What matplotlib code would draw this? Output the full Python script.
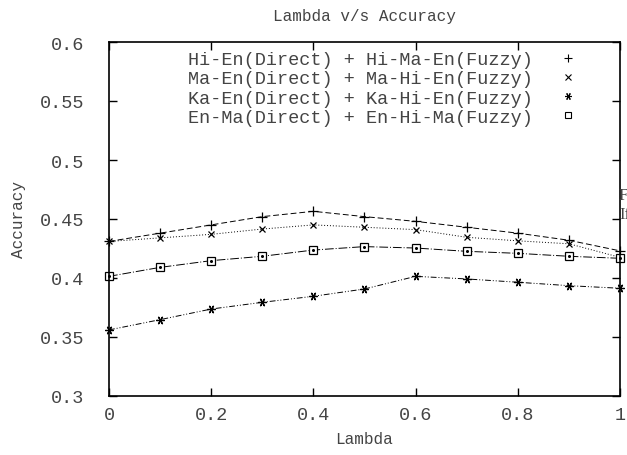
import matplotlib.pyplot as plt
from matplotlib.lines import Line2D

# Werte
lam = [0.0, 0.1, 0.2, 0.3, 0.4, 0.5, 0.6, 0.7, 0.8, 0.9, 1.0]
hi_en = [0.431, 0.438, 0.445, 0.452, 0.4565, 0.452, 0.448, 0.443, 0.438, 0.432, 0.423]
ma_en = [0.431, 0.434, 0.437, 0.4415, 0.445, 0.443, 0.441, 0.4345, 0.4315, 0.429, 0.4175]
ka_en = [0.356, 0.3647, 0.3737, 0.3794, 0.3845, 0.3907, 0.4014, 0.3992, 0.3964, 0.3935, 0.3913]
en_ma = [0.4014, 0.409, 0.4147, 0.4184, 0.4237, 0.4266, 0.4254, 0.4226, 0.4209, 0.4184, 0.4167]

labels = ['Hi-En(Direct) + Hi-Ma-En(Fuzzy)',
          'Ma-En(Direct) + Ma-Hi-En(Fuzzy)',
          'Ka-En(Direct) + Ka-Hi-En(Fuzzy)',
          'En-Ma(Direct) + En-Hi-Ma(Fuzzy)']

plt.rcParams['font.family'] = ['Liberation Mono', 'DejaVu Sans']
plt.rcParams['font.size'] = 13.3

txt = '#444444'
fig = plt.figure(figsize=(6.27, 4.56), dpi=100)
ax = fig.add_axes([109 / 627, 59 / 456, 511 / 627, 354 / 456])

star = (6, 2, 90)
styles = [
    dict(marker='+', linestyle=(0, (6, 3)), ms=7),
    dict(marker='x', linestyle=(0, (1, 2)), ms=5),
    dict(marker=star, linestyle=(0, (6, 2, 1, 2, 1, 2)), ms=6),
    dict(marker='s', linestyle=(0, (9, 2, 1, 2)), ms=6),
]
series = [hi_en, ma_en, ka_en, en_ma]

handles = []
for ys, st, lab in zip(series, styles, labels):
    ax.plot(lam, ys, color='black', lw=0.7, linestyle=st['linestyle'],
            marker=st['marker'], ms=st['ms'], mfc='white', mec='black', mew=0.9,
            clip_on=False)
    handles.append(Line2D([], [], color='black', linestyle='none',
                          marker=st['marker'], ms=st['ms'] - 1, mfc='white',
                          mec='black', mew=0.8))

# kleiner Punkt in den Quadraten
ax.plot(lam, en_ma, linestyle='none', marker='o', ms=1.2, color='black', clip_on=False)

ax.set_xlim(0, 1)
ax.set_ylim(0.3, 0.6)
ax.set_xticks([0, 0.2, 0.4, 0.6, 0.8, 1])
ax.set_xticklabels(['0', '0.2', '0.4', '0.6', '0.8', '1'])
ax.set_yticks([0.3, 0.35, 0.4, 0.45, 0.5, 0.55, 0.6])
ax.set_yticklabels(['0.3', '0.35', '0.4', '0.45', '0.5', '0.55', '0.6'])
ax.tick_params(direction='in', top=True, right=True, length=6, width=1,
               color='black', labelcolor=txt)
ax.tick_params(axis='y', pad=18)
ax.tick_params(axis='x', pad=7)
for sp in ax.spines.values():
    sp.set_linewidth(1.2)

ax.set_title('Lambda v/s Accuracy', fontsize=11.5, pad=16, color=txt)
ax.set_xlabel('Lambda', fontsize=11.5, labelpad=6, color=txt)
ax.set_ylabel('Accuracy', fontsize=11.5, labelpad=10, color=txt)

leg = ax.legend(handles, labels, loc='upper right', bbox_to_anchor=(0.93, 0.995),
                frameon=False, markerfirst=False, handlelength=1.0,
                handletextpad=1.4, labelspacing=0.12, borderaxespad=0)
for t in leg.get_texts():
    t.set_color(txt)

# abgeschnittener Text am rechten Rand
fig.text(619 / 627, 1 - 196 / 456, 'F', family='Liberation Serif', fontsize=12,
         va='center', ha='left', color=txt)
fig.text(619 / 627, 1 - 215 / 456, 'If', family='Liberation Serif', fontsize=12,
         va='center', ha='left', color=txt)

fig.savefig('out.png', dpi=100)
